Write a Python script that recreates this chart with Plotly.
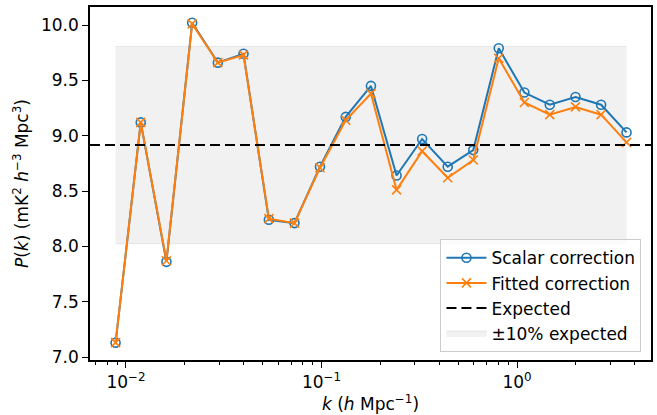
import plotly.graph_objects as go

k = [0.00885, 0.0119, 0.0161, 0.0218, 0.0295, 0.0399, 0.0538, 0.0727, 0.0982, 0.133,
     0.179, 0.242, 0.327, 0.442, 0.597, 0.806, 1.09, 1.47, 1.99, 2.69, 3.63]
scalar = [7.13, 9.12, 7.86, 10.02, 9.66, 9.74, 8.24, 8.21, 8.72, 9.17,
          9.45, 8.64, 8.97, 8.72, 8.87, 9.79, 9.39, 9.28, 9.35, 9.28, 9.03]
fitted = [7.13, 9.12, 7.87, 10.01, 9.66, 9.73, 8.25, 8.21, 8.71, 9.14,
          9.38, 8.51, 8.86, 8.62, 8.78, 9.70, 9.30, 9.19, 9.26, 9.19, 8.94]
expected = 8.915
band_frac = 0.10

xtick_vals = [0.01, 0.1, 1]
xtick_text = ["10<sup>\u22122</sup>", "10<sup>\u22121</sup>", "10<sup>0</sup>"]
minor_vals = [0.007, 0.008, 0.009, 0.02, 0.03, 0.04, 0.05, 0.06, 0.07, 0.08, 0.09,
              0.2, 0.3, 0.4, 0.5, 0.6, 0.7, 0.8, 0.9, 2, 3, 4]
ytick_vals = [7.0, 7.5, 8.0, 8.5, 9.0, 9.5, 10.0]

BLUE = "#1f77b4"
ORANGE = "#ff7f0e"
FONT = "DejaVu Sans"
FS = 17

fig = go.Figure()

# +-10% band
fig.add_trace(go.Scatter(
    x=[k[0], k[-1]], y=[expected * (1 - band_frac)] * 2, mode="lines",
    line=dict(color="rgba(128,128,128,0.15)", width=1), showlegend=False, hoverinfo="skip"))
fig.add_trace(go.Scatter(
    x=[k[0], k[-1]], y=[expected * (1 + band_frac)] * 2, mode="lines",
    line=dict(color="rgba(128,128,128,0.15)", width=1), fill="tonexty",
    fillcolor="rgba(128,128,128,0.11)", name="\u00b110% expected", legendrank=4))

fig.add_trace(go.Scatter(
    x=k, y=scalar, mode="lines+markers", name="Scalar correction",
    line=dict(color=BLUE, width=2),
    marker=dict(symbol="circle-open", size=9, color=BLUE, line=dict(width=1.6)),
    legendrank=1))
fig.add_trace(go.Scatter(
    x=k, y=fitted, mode="lines+markers", name="Fitted correction",
    line=dict(color=ORANGE, width=2),
    marker=dict(symbol="x-thin-open", size=9, color=ORANGE, line=dict(width=1.6, color=ORANGE)),
    legendrank=2))

fig.add_shape(type="line", xref="paper", x0=0, x1=1, yref="y", y0=expected, y1=expected,
              line=dict(color="black", width=2, dash="10px,5px"),
              showlegend=True, name="Expected", legendrank=3)

fig.update_layout(
    width=657, height=415,
    margin=dict(l=90, r=6, t=7, b=55),
    paper_bgcolor="white", plot_bgcolor="white",
    font=dict(family=FONT, size=FS, color="black"),
    showlegend=True,
    legend=dict(x=0.983, y=0.022, xanchor="right", yanchor="bottom", traceorder="normal",
                bgcolor="rgba(255,255,255,0.8)", bordercolor="#cccccc", borderwidth=1,
                font=dict(family=FONT, size=FS), tracegroupgap=0, itemwidth=40),
    xaxis=dict(
        type="log", range=[-2.184, 0.685], automargin=False,
        tickmode="array", tickvals=xtick_vals, ticktext=xtick_text,
        ticks="outside", ticklen=6, tickwidth=1.2, tickcolor="black",
        minor=dict(tickmode="array", tickvals=minor_vals, ticks="outside", ticklen=3,
                   tickwidth=1, tickcolor="black"),
        showline=True, linecolor="black", linewidth=1.5, mirror=True,
        showgrid=False, zeroline=False,
        title=dict(text="<i>k</i> (<i>h</i> Mpc<sup>\u22121</sup>)", standoff=4,
                   font=dict(family=FONT, size=FS)),
    ),
    yaxis=dict(
        range=[6.973, 10.163], automargin=False,
        tickmode="array", tickvals=ytick_vals, ticktext=[f"{v:.1f}" for v in ytick_vals],
        ticks="outside", ticklen=6, tickwidth=1.2, tickcolor="black",
        showline=True, linecolor="black", linewidth=1.5, mirror=True,
        showgrid=False, zeroline=False,
        title=dict(text="<i>P</i>(<i>k</i>) (mK<sup>2</sup> <i>h</i><sup>\u22123</sup> Mpc<sup>3</sup>)",
                   standoff=8, font=dict(family=FONT, size=FS)),
    ),
)

fig.write_html("out.html", config={"displayModeBar": False},
               post_script="document.body.style.margin='0';")
